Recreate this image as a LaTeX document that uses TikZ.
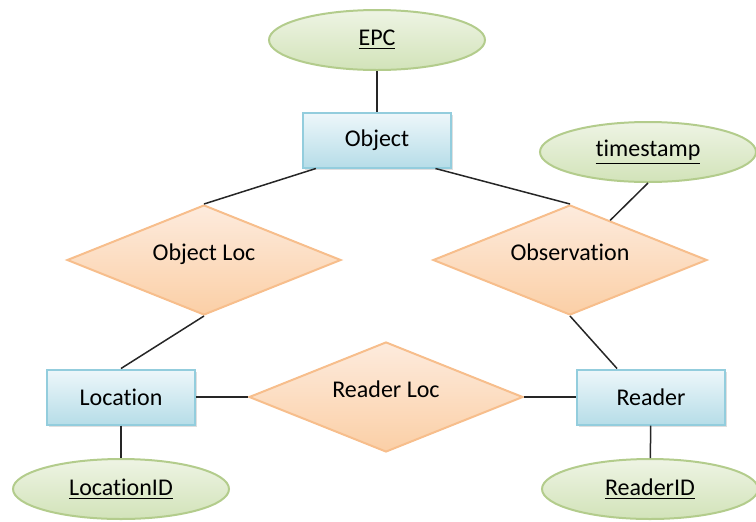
\documentclass[tikz,border=0pt]{standalone}
\usepackage{fontspec}
\setmainfont{Carlito}[Ligatures=NoCommon]
\usetikzlibrary{shapes.geometric,shadows}

\definecolor{boxline}{HTML}{93CDDD}
\definecolor{boxtop}{HTML}{EEF7FA}
\definecolor{boxbot}{HTML}{B6DDE8}
\definecolor{relline}{HTML}{F7BE8C}
\definecolor{reltop}{HTML}{FDEBDD}
\definecolor{relbot}{HTML}{FBCFA6}
\definecolor{attline}{HTML}{B3CC8C}
\definecolor{atttop}{HTML}{EEF4E4}
\definecolor{attbot}{HTML}{D2E3B9}

\begin{document}
\begin{tikzpicture}
  [x=0.5pt,y=-0.5pt,font=\fontsize{12}{14}\selectfont,
   entity/.style={rectangle, draw=boxline, line width=1pt, top color=boxtop, bottom color=boxbot,
     minimum width=74pt, minimum height=27.5pt, inner sep=0pt,
     drop shadow={opacity=0.25, shadow xshift=1pt, shadow yshift=-1pt}},
   relation/.style={diamond, draw=relline, line width=1pt, top color=reltop, bottom color=relbot,
     minimum width=137pt, minimum height=55pt, inner sep=0pt, aspect=2.5, text depth=8pt},
   attrib/.style={ellipse, draw=attline, line width=1pt, top color=atttop, bottom color=attbot,
     minimum width=108pt, minimum height=30pt, inner sep=0pt},
   link/.style={draw=black!85, line width=0.75pt}]

 \useasboundingbox (0,0) rectangle (756,521);

 \node[attrib] (epc) at (377,40) {\underline{EPC}};
 \node[attrib] (timestamp) at (648,152) {\underline{timestamp}};
 \node[attrib] (locid) at (121,489) {\underline{LocationID}};
 \node[attrib] (readerid) at (650,489) {\underline{ReaderID}};

 \node[entity] (object) at (377,140) {Object};
 \node[entity] (location) at (121,397) {Location};
 \node[entity] (reader) at (651,397) {Reader};

 \node[relation] (objloc) at (204,260) {Object Loc};
 \node[relation] (obs) at (570,260) {Observation};
 \node[relation] (readerloc) at (386,397) {Reader Loc};

 \foreach \from/\to in {epc/object, object.-155/objloc.north, object.-26/obs.north,
     timestamp.south/obs, obs.south/reader.140, objloc.south/location.north,
     location.east/readerloc.west, readerloc.east/reader.west,
     location/locid, reader/readerid}
   \draw[link] (\from) -- (\to);

\end{tikzpicture}
\end{document}
